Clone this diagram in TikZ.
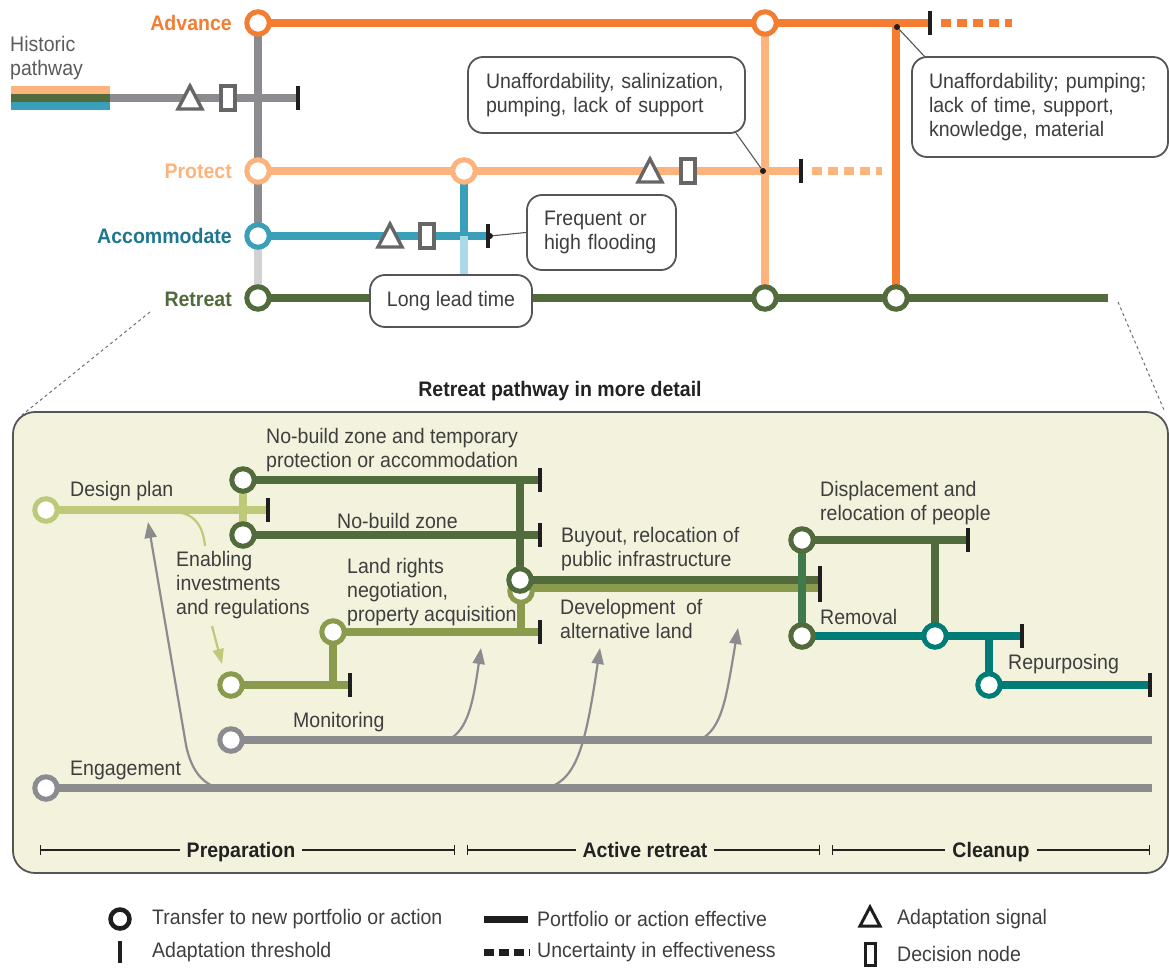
\documentclass[tikz,border=0pt]{standalone}
\usepackage{fontspec}
\setmainfont{Liberation Sans}[FakeStretch=0.93]
\usetikzlibrary{arrows.meta}
\definecolor{adv}{HTML}{F47D32}
\definecolor{pro}{HTML}{FDB47C}
\definecolor{acc}{HTML}{3AA0BA}
\definecolor{accdk}{HTML}{1E7790}
\definecolor{acclt}{HTML}{A9D9E8}
\definecolor{ret}{HTML}{526B3C}
\definecolor{gry}{HTML}{8C8C90}
\definecolor{lgry}{HTML}{D2D2D2}
\definecolor{lgrn}{HTML}{BFC97A}
\definecolor{oliv}{HTML}{8A9B4E}
\definecolor{mgrn}{HTML}{3F7B4A}
\definecolor{teal2}{HTML}{007C77}
\definecolor{panel}{HTML}{F3F2DC}
\definecolor{txt}{HTML}{3E3E3E}
\definecolor{dk}{HTML}{222222}
\definecolor{tickc}{HTML}{1E1E1E}
\definecolor{boxc}{HTML}{555555}
\definecolor{mark}{HTML}{666666}
\begin{document}
\begin{tikzpicture}[x=1pt,y=-1pt,
  lbl/.style={font=\fontsize{21}{24}\selectfont, text=txt, inner sep=0pt, align=left},
  blbl/.style={font=\bfseries\fontsize{21}{24}\selectfont, inner sep=0pt},
  ln/.style={line width=8pt, draw=#1},
  bln/.style={line width=8.5pt, draw=#1},
  ring/.style={circle, draw=#1, fill=white, line width=5pt, minimum size=22.5pt, inner sep=0pt},
  callout/.style={draw=boxc, line width=1.8pt, rounded corners=15pt, fill=white, font=\fontsize{21}{24}\selectfont, text=txt, align=left, inner sep=0pt},
  leader/.style={draw=boxc, line width=1.1pt},
  ldot/.style={circle, fill=tickc, inner sep=0pt, minimum size=6pt},
  garrow/.style={draw=gry, line width=2.2pt, -{Triangle[length=16pt,width=12pt]}},
  phase/.style={draw=dk, line width=1.2pt, {Bar[width=10pt]}-{Bar[width=10pt]}},
  phlbl/.style={font=\bfseries\fontsize{21}{24}\selectfont, text=dk, fill=panel, inner xsep=7pt, inner ysep=2pt, anchor=base},
  thr/.pic={\draw[line width=4.5pt, tickc] (0,-12) -- (0,12);},
  signal/.pic={\draw[line width=3.4pt, draw=mark, fill=white, line join=miter] (-12,11) -- (0,-12) -- (12,11) -- cycle;},
  decision/.pic={\draw[line width=3.4pt, draw=mark, fill=white] (-7,-12) rectangle (7,12);}
]
\useasboundingbox (0,0) rectangle (1169,968);

% ================= TOP =================
\coordinate (A0) at (258,23);  \coordinate (A1) at (765,23);
\coordinate (Aj) at (896,23);  \coordinate (Athr) at (930,23);
\coordinate (P0) at (258,171); \coordinate (P1) at (464,171);
\coordinate (Pj) at (765,171); \coordinate (Pthr) at (801,171);
\coordinate (C0) at (258,236); \coordinate (Cj) at (464,236);
\coordinate (Cthr) at (488,236);
\coordinate (R0) at (258,298); \coordinate (R1) at (765,298);
\coordinate (R2) at (896,298); \coordinate (Rend) at (1108,298);
\coordinate (Rj) at (464,298);
\coordinate (H0) at (110,98); \coordinate (Hthr) at (298,98);

% historic pathway
\fill[pro] (11,86) rectangle (110,94.5);
\fill[ret] (11,94.5) rectangle (110,102);
\fill[acc] (11,102) rectangle (110,110.5);
\node[lbl, text=txt!85, anchor=west] (hist) at (10,58) {Historic\\pathway};
\draw[ln=gry] (H0) -- (Hthr);

% gray spine
\draw[ln=gry] (A0) -- (C0);
\draw[ln=lgry] (C0) -- (R0);

% lines
\draw[ln=adv] (A0) -- (Athr);
\draw[ln=adv, dash pattern=on 10pt off 6pt] (941,23) -- (1012,23);
\draw[ln=pro] (A1) -- (R1);
\draw[ln=adv] (Aj) -- (R2);
\draw[ln=pro] (P0) -- (Pthr);
\draw[ln=pro, dash pattern=on 10pt off 6pt] (812,171) -- (882,171);
\draw[ln=acc] (C0) -- (Cthr);
\draw[ln=acc] (P1) -- (Cj);
\draw[ln=acclt] (Cj) -- (Rj);
\draw[ln=ret] (R0) -- (Rend);

% markers
\pic at (190,98) {signal};  \pic at (228,98) {decision};
\pic at (650,171) {signal}; \pic at (688,171) {decision};
\pic at (390,236) {signal}; \pic at (427,236) {decision};
\pic at (Hthr) {thr}; \pic at (Athr) {thr}; \pic at (Pthr) {thr}; \pic at (Cthr) {thr};

% rings
\node[ring=adv] (nA0) at (A0) {};
\node[ring=adv] (nA1) at (A1) {};
\node[ring=pro] (nP0) at (P0) {};
\node[ring=pro] (nP1) at (P1) {};
\node[ring=acc] (nC0) at (C0) {};
\node[ring=ret] (nR0) at (R0) {};
\node[ring=ret] (nR1) at (R1) {};
\node[ring=ret] (nR2) at (R2) {};

% side labels
\node[blbl, text=adv, anchor=east] (lA) at (232,23) {Advance};
\node[blbl, text=pro, anchor=east] (lP) at (232,171) {Protect};
\node[blbl, text=accdk, anchor=east] (lC) at (232,236) {Accommodate};
\node[blbl, text=ret, anchor=east] (lR) at (232,299) {Retreat};

% callouts
\node[callout, minimum width=277pt, minimum height=76pt, text width=241pt] (box1) at (606.5,95) {Unaffordability, salinization,\\pumping, lack of support};
\node[callout, minimum width=256pt, minimum height=100pt, text width=222pt] (box2) at (1040,107) {Unaffordability; pumping;\\lack of time, support,\\knowledge, material};
\node[callout, minimum width=149pt, minimum height=75pt, text width=115pt] (box3) at (601.5,232.5) {Frequent or\\high flooding};
\node[callout, minimum width=162pt, minimum height=52pt, align=center] (box4) at (451,301) {Long lead time};

\node[ldot] (d1) at (763,171) {};
\node[ldot] (d2) at (897,27) {};
\node[ldot] (d3) at (490,236) {};
\coordinate (b1c) at (736,133);
\coordinate (b2c) at (925,57);
\draw[leader] (d1) -- (b1c);
\draw[leader] (d2) -- (b2c);
\draw[leader] (d3) -- (box3.west);

% zoom dashed lines
\draw[draw=gry!80!black, line width=1pt, dash pattern=on 3pt off 3pt] (150,312) -- (22,415);
\draw[draw=gry!80!black, line width=1pt, dash pattern=on 3pt off 3pt] (1118,302) -- (1164,410);

\node[blbl, text=dk] (title) at (560,391) {Retreat pathway in more detail};

% ================= PANEL =================
\draw[fill=panel, draw=boxc, line width=1.8pt, rounded corners=22pt] (13,412) rectangle (1168,873);

\coordinate (DP0) at (46,510);  \coordinate (DPthr) at (268,510);
\coordinate (N1) at (243,480);  \coordinate (N1thr) at (540,480);
\coordinate (N2) at (243,535);  \coordinate (N2thr) at (540,535);
\coordinate (Nv) at (520,480);
\coordinate (B0) at (520,580);  \coordinate (O0) at (521,591);
\coordinate (Bthr) at (820,580); \coordinate (Othr) at (820,588);
\coordinate (Os) at (521,588);
\coordinate (Oj) at (521,632);
\coordinate (L0) at (333,632);  \coordinate (Lthr) at (540,632);
\coordinate (Lj) at (333,685);
\coordinate (E0) at (231,685);  \coordinate (Ethr) at (350,685);
\coordinate (D0) at (802,540);  \coordinate (D1) at (802,636);
\coordinate (Dthr) at (968,540); \coordinate (Dv) at (935,540);
\coordinate (T0) at (935,636);  \coordinate (Tthr) at (1022,636);
\coordinate (Tv) at (989,636);
\coordinate (T1) at (989,685);  \coordinate (T1thr) at (1150,685);
\coordinate (M0) at (231,740);  \coordinate (Mend) at (1152,740);
\coordinate (G0) at (46,788);   \coordinate (Gend) at (1152,788);

% gray arrows
\draw[garrow] (218,788) .. controls (198,782) and (190,764) .. (186,745) -- (148,522);
\draw[garrow] (448,740) .. controls (468,730) and (473,703) .. (481,648);
\draw[garrow] (548,788) .. controls (578,778) and (586,742) .. (600,648);
\draw[garrow] (700,740) .. controls (722,728) and (726,700) .. (738,628);

% lines bottom
\draw[bln=gry] (M0) -- (Mend);
\draw[bln=gry] (G0) -- (Gend);
\draw[bln=lgrn] (DP0) -- (DPthr);
\draw[bln=lgrn] (N1) -- (N2);
\draw[bln=ret] (N1) -- (N1thr);
\draw[bln=ret] (N2) -- (N2thr);
\draw[bln=ret] (Nv) -- (B0);
\draw[line width=8pt, oliv] (Os) -- (Othr);
\draw[line width=8pt, ret] (B0) -- (Bthr);
\draw[bln=oliv] (O0) -- (Oj);
\draw[bln=oliv] (L0) -- (Lthr);
\draw[bln=oliv] (L0) -- (Lj);
\draw[bln=oliv] (E0) -- (Ethr);
\draw[bln=mgrn] (D0) -- (D1);
\draw[bln=ret] (D0) -- (Dthr);
\draw[bln=ret] (Dv) -- (T0);
\draw[bln=teal2] (D1) -- (Tthr);
\draw[bln=teal2] (Tv) -- (T1);
\draw[bln=teal2] (T1) -- (T1thr);

% enabling curve and arrow
\draw[draw=lgrn, line width=2.2pt] (176,512) .. controls (196,514) and (203,527) .. (205,546);
\draw[draw=lgrn, line width=2.2pt, -{Triangle[length=15pt,width=11pt]}] (212,626) -- (222,664);

% thresholds bottom
\pic at (DPthr) {thr}; \pic at (N1thr) {thr}; \pic at (N2thr) {thr};
\pic at (Lthr) {thr}; \pic at (Ethr) {thr}; \pic at (Dthr) {thr};
\pic at (Tthr) {thr}; \pic at (T1thr) {thr};
\draw[line width=4.5pt, tickc] (820,566) -- (820,602);

% rings bottom
\node[ring=lgrn] (nDP) at (DP0) {};
\node[ring=ret] (nN1) at (N1) {};
\node[ring=ret] (nN2) at (N2) {};
\node[ring=oliv] (nO0) at (O0) {};
\node[ring=ret] (nB0) at (B0) {};
\node[ring=oliv] (nL0) at (L0) {};
\node[ring=oliv] (nE0) at (E0) {};
\node[ring=ret] (nD0) at (D0) {};
\node[ring=ret] (nD1) at (D1) {};
\node[ring=teal2] (nT0) at (T0) {};
\node[ring=teal2] (nT1) at (T1) {};
\node[ring=gry] (nM0) at (M0) {};
\node[ring=gry] (nG0) at (G0) {};

% labels bottom
\node[lbl, anchor=west] (tDP) at (70,491) {Design plan};
\node[lbl, anchor=west] (tN1) at (266,450) {No-build zone and temporary\\protection or accommodation};
\node[lbl, anchor=west] (tN2) at (337,521) {No-build zone};
\node[lbl, anchor=west] (tEn) at (176,585) {Enabling\\investments\\and regulations};
\node[lbl, anchor=west] (tLR) at (347,592) {Land rights\\negotiation,\\property acquisition};
\node[lbl, anchor=west] (tBu) at (561,549) {Buyout, relocation of\\public infrastructure};
\node[lbl, anchor=west] (tDe) at (560,619) {Development\ \ of\\alternative land};
\node[lbl, anchor=west] (tDi) at (820,503) {Displacement and\\relocation of people};
\node[lbl, anchor=west] (tRe) at (820,617) {Removal};
\node[lbl, anchor=west] (tRp) at (1008,664) {Repurposing};
\node[lbl, anchor=west] (tMo) at (293,722) {Monitoring};
\node[lbl, anchor=west] (tEg) at (70,770) {Engagement};

% phases
\draw[phase] (40,850) -- (455,850);
\draw[phase] (467,850) -- (820,850);
\draw[phase] (832,850) -- (1150,850);
\node[phlbl] (ph1) at (241,857.5) {Preparation};
\node[phlbl] (ph2) at (645,857.5) {Active retreat};
\node[phlbl] (ph3) at (991,857.5) {Cleanup};

% ================= LEGEND =================
\node[circle, draw=tickc, fill=white, line width=4.5pt, minimum size=19pt, inner sep=0pt] (lg1) at (120,919) {};
\draw[line width=4.5pt, tickc] (120,941) -- (120,963);
\node[lbl, anchor=west] (lt1) at (152,919) {Transfer to new portfolio or action};
\node[lbl, anchor=west] (lt2) at (152,952) {Adaptation threshold};
\draw[line width=7pt, tickc] (484,919) -- (528,919);
\draw[line width=7pt, tickc, dash pattern=on 10pt off 5pt] (484,952) -- (530,952);
\node[lbl, anchor=west] (lt3) at (537,919) {Portfolio or action effective};
\node[lbl, anchor=west] (lt4) at (537,952) {Uncertainty in effectiveness};
\draw[line width=3pt, tickc, line join=miter] (860,926) -- (870,907) -- (880,926) -- cycle;
\draw[line width=3pt, tickc] (865,943) rectangle (875,965);
\node[lbl, anchor=west] (lt5) at (897,919) {Adaptation signal};
\node[lbl, anchor=west] (lt6) at (897,954) {Decision node};
\end{tikzpicture}
\end{document}
